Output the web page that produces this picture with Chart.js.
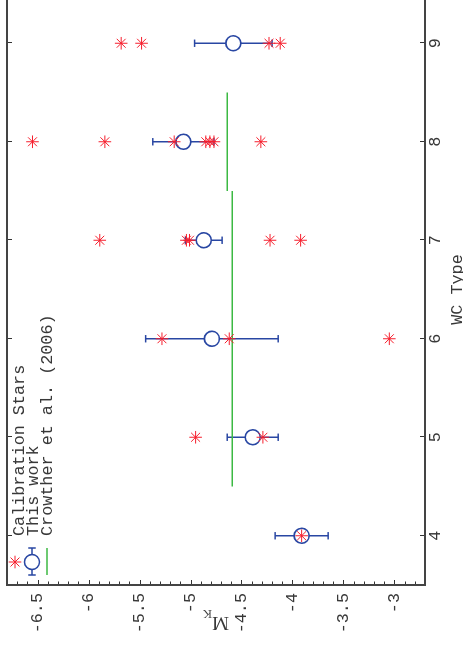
<!DOCTYPE html>
<html>
<head>
<meta charset="utf-8">
<script src="https://cdn.jsdelivr.net/npm/chart.js@4.4.1/dist/chart.umd.min.js"></script>
<style>
  html, body { margin: 0; padding: 0; background: #fff; overflow: hidden; width: 463px; height: 645px; }
  /* The plot is laid out landscape and turned a quarter turn counter-clockwise */
  #wrap { position: absolute; left: 0; top: 0; width: 660px; height: 463px;
          transform-origin: 0 0; transform: translate(0px, 645px) rotate(-90deg); }
  canvas { display: block; }
</style>
</head>
<body>
<div id="wrap"><canvas id="c" width="660" height="463"></canvas></div>
<script>
// WC subtypes
const wcTypes = [4, 5, 6, 7, 8, 9];

// This work: mean absolute K magnitude per subtype and its spread
const thisWorkMK  = [-3.91, -4.39, -4.79, -4.87, -5.07, -4.58];
const thisWorkErr = [0.26, 0.25, 0.65, 0.18, 0.30, 0.38];

// Individual calibration stars, by subtype
const calibWC4 = [-3.91];
const calibWC5 = [-4.95, -4.29];
const calibWC6 = [-5.28, -4.62, -3.05];
const calibWC7 = [-5.89, -5.04, -5.01, -4.22, -3.92];
const calibWC8 = [-6.55, -5.84, -5.16, -4.85, -4.81, -4.77, -4.31];
const calibWC9 = [-5.68, -5.48, -4.23, -4.12];

// Crowther et al. (2006) calibrations: subtype span and M_K
const crowtherFrom = [4.5, 7.5];
const crowtherTo   = [7.5, 8.5];
const crowtherMK   = [-4.59, -4.64];

// Axes
const wcRange = [3.5, 9.5];
const mkRange = [-6.8, -2.7];
const wcTicks = [4, 5, 6, 7, 8, 9];
const mkTicks = [-6.5, -6, -5.5, -5, -4.5, -4, -3.5, -3];

const RED = '#f61e2c';
const BLUE = '#2947a3';
const GREEN = '#3cb943';
const INK = '#383838';
const MONO = "'Liberation Mono', 'DejaVu Sans Mono', monospace";
const FONT_SIZE = 16.8;

// Build dataset point lists
const calibGroups = [calibWC4, calibWC5, calibWC6, calibWC7, calibWC8, calibWC9];
const calibPoints = [];
calibGroups.forEach((vals, i) => vals.forEach(v => calibPoints.push({ x: wcTypes[i], y: v })));

const meanPoints = wcTypes.map((t, i) => ({ x: t, y: thisWorkMK[i] }));

const errPoints = [];
wcTypes.forEach((t, i) => {
  errPoints.push({ x: t, y: thisWorkMK[i] - thisWorkErr[i] });
  errPoints.push({ x: t, y: thisWorkMK[i] + thisWorkErr[i] });
  errPoints.push({ x: t, y: null });
});

const crowtherPoints = [];
crowtherMK.forEach((m, i) => {
  crowtherPoints.push({ x: crowtherFrom[i], y: m });
  crowtherPoints.push({ x: crowtherTo[i], y: m });
  crowtherPoints.push({ x: crowtherTo[i], y: null });
});

function starPath(ctx, x, y, r) {
  ctx.beginPath();
  for (let k = 0; k < 4; k++) {
    const a = k * Math.PI / 4, dx = Math.cos(a) * r, dy = Math.sin(a) * r;
    ctx.moveTo(x - dx, y - dy);
    ctx.lineTo(x + dx, y + dy);
  }
  ctx.stroke();
}

// Box frame with inward-pointing ticks on all four sides
const frameTicks = {
  id: 'frameTicks',
  afterDatasetsDraw(chart) {
    const { ctx, chartArea: a, scales: { x, y } } = chart;
    ctx.save();
    ctx.strokeStyle = '#333';
    ctx.lineWidth = 1;
    ctx.beginPath();
    wcTicks.forEach(v => {
      const px = Math.round(x.getPixelForValue(v)) + 0.5;
      ctx.moveTo(px, a.bottom); ctx.lineTo(px, a.bottom - 5);
      ctx.moveTo(px, a.top);    ctx.lineTo(px, a.top + 5);
    });
    for (let i = Math.ceil(mkRange[0] * 10); i <= Math.floor(mkRange[1] * 10); i++) {
      const major = i % 5 === 0;
      const len = major ? 5 : 3.5;
      const py = Math.round(y.getPixelForValue(i / 10)) + 0.5;
      ctx.moveTo(a.left, py);  ctx.lineTo(a.left + len, py);
      ctx.moveTo(a.right, py); ctx.lineTo(a.right - len, py);
    }
    ctx.stroke();
    ctx.strokeStyle = '#444';
    ctx.lineWidth = 2;
    ctx.strokeRect(a.left, a.top, a.right - a.left, a.bottom - a.top);
    ctx.restore();
  }
};

// Axis titles and the legend
const labelsAndKey = {
  id: 'labelsAndKey',
  afterDraw(chart) {
    const { ctx, chartArea: a } = chart;
    ctx.save();
    ctx.fillStyle = INK;

    // horizontal axis title
    ctx.font = FONT_SIZE + 'px ' + MONO;
    ctx.textAlign = 'center';
    ctx.textBaseline = 'alphabetic';
    ctx.fillText('WC Type', (a.left + a.right) / 2, 462);

    // vertical axis title M_K
    const bigFont = "19px 'Liberation Serif', serif";
    const subFont = "12.5px 'Liberation Serif', serif";
    ctx.font = bigFont;
    const wM = ctx.measureText('M').width;
    ctx.font = subFont;
    const wK = ctx.measureText('K').width;
    ctx.translate(28, (a.top + a.bottom) / 2 + (wM + wK) / 2);
    ctx.rotate(-Math.PI / 2);
    ctx.textAlign = 'left';
    ctx.font = bigFont;
    ctx.fillText('M', 0, 0);
    ctx.font = subFont;
    ctx.fillText('K', wM, 6.5);
    ctx.setTransform(1, 0, 0, 1, 0, 0);
    ctx.restore();

    // legend
    ctx.save();
    ctx.lineWidth = 1;
    ctx.strokeStyle = RED;
    starPath(ctx, 83, 15, 6.3);

    ctx.strokeStyle = BLUE;
    ctx.lineWidth = 1.5;
    ctx.beginPath();
    ctx.moveTo(70, 32); ctx.lineTo(97, 32);
    ctx.moveTo(70, 28.3); ctx.lineTo(70, 35.7);
    ctx.moveTo(97, 28.3); ctx.lineTo(97, 35.7);
    ctx.stroke();
    ctx.fillStyle = '#fff';
    ctx.lineWidth = 1.6;
    ctx.beginPath();
    ctx.arc(83, 32, 7.5, 0, Math.PI * 2);
    ctx.fill();
    ctx.stroke();

    ctx.strokeStyle = GREEN;
    ctx.lineWidth = 1.5;
    ctx.beginPath();
    ctx.moveTo(70, 47); ctx.lineTo(97, 47);
    ctx.stroke();

    ctx.fillStyle = INK;
    ctx.font = FONT_SIZE + 'px ' + MONO;
    ctx.textAlign = 'left';
    ctx.textBaseline = 'alphabetic';
    ctx.fillText('Calibration Stars', 109, 24);
    ctx.fillText('This work', 109, 38);
    ctx.fillText('Crowther et al. (2006)', 109, 52);
    ctx.restore();
  }
};

const tickFont = { family: MONO, size: FONT_SIZE };

new Chart(document.getElementById('c'), {
  type: 'scatter',
  data: {
    datasets: [
      {
        label: 'Calibration Stars',
        data: calibPoints,
        pointStyle: 'star',
        pointRadius: 6.3,
        borderColor: RED,
        pointBorderWidth: 1,
        order: 1
      },
      {
        label: 'This work',
        data: meanPoints,
        pointStyle: 'circle',
        pointRadius: 7.5,
        borderColor: BLUE,
        backgroundColor: '#fff',
        pointBorderWidth: 1.6,
        order: 2
      },
      {
        label: 'Crowther et al. (2006)',
        data: crowtherPoints,
        showLine: true,
        spanGaps: false,
        pointRadius: 0,
        borderColor: GREEN,
        borderWidth: 1.5,
        order: 3
      },
      {
        label: 'This work (spread)',
        data: errPoints,
        showLine: true,
        spanGaps: false,
        pointStyle: 'line',
        pointRadius: 3.7,
        pointBorderWidth: 1.5,
        borderColor: BLUE,
        borderWidth: 1.5,
        order: 4
      }
    ]
  },
  options: {
    responsive: false,
    animation: false,
    events: [],
    devicePixelRatio: 1,
    layout: { autoPadding: false, padding: { left: 0, right: 9, top: 7, bottom: 0 } },
    plugins: { legend: { display: false }, tooltip: { enabled: false } },
    scales: {
      x: {
        type: 'linear', position: 'bottom',
        min: wcRange[0], max: wcRange[1],
        grid: { display: false, drawTicks: false },
        border: { display: false },
        ticks: { font: tickFont, color: INK, padding: 0, maxRotation: 0, autoSkip: false,
                 callback: v => String(v) },
        afterBuildTicks: s => { s.ticks = wcTicks.map(v => ({ value: v })); },
        afterFit: s => { s.height = 38; s.paddingLeft = 0; s.paddingRight = 0; }
      },
      y: {
        type: 'linear', position: 'left', reverse: true,
        min: mkRange[0], max: mkRange[1],
        grid: { display: false, drawTicks: false },
        border: { display: false },
        ticks: { font: tickFont, color: INK, padding: 8, autoSkip: false,
                 callback: v => String(v) },
        afterBuildTicks: s => { s.ticks = mkTicks.map(v => ({ value: v })); },
        afterFit: s => { s.width = 60; s.paddingTop = 0; s.paddingBottom = 0; }
      }
    }
  },
  plugins: [frameTicks, labelsAndKey]
});
</script>
</body>
</html>
